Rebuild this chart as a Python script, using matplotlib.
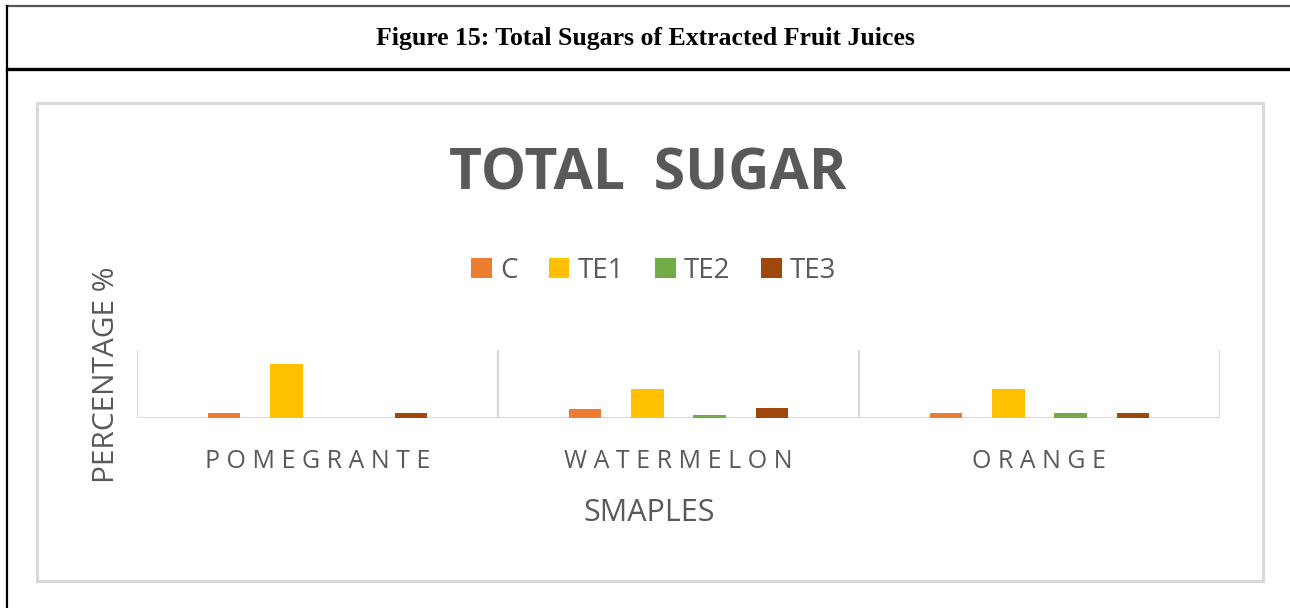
import matplotlib
matplotlib.use("Agg")
import numpy as np
import matplotlib.pyplot as plt
from matplotlib.lines import Line2D
from matplotlib.patches import Rectangle

# ── Datos ──────────────────────────────────────────────────────────────────
samples = ["POMEGRANTE", "WATERMELON", "ORANGE"]
series = ["C", "TE1", "TE2", "TE3"]
val_c   = [1.8, 3.3, 1.8]
val_te1 = [19.9, 10.6, 10.6]
val_te2 = [0.0, 1.1, 1.8]
val_te3 = [1.8, 3.7, 1.8]
colors = ["#ED7D31", "#FFC000", "#70AD47", "#9E480E"]

W, H = 1290, 608
TXT = "#595959"
GRID = "#D9D9D9"

def fx(x):
    return x / W

def fy(y):
    return 1 - y / H

fig = plt.figure(figsize=(W / 100, H / 100), dpi=100, facecolor="white")

# ── Marco exterior ─────────────────────────────────────────────────────────
fig.add_artist(Line2D([fx(7), 1], [fy(6), fy(6)], color="#555555", lw=1.6))
fig.add_artist(Line2D([fx(7), fx(7)], [fy(6), 0], color="black", lw=1.6))
fig.add_artist(Line2D([fx(7), 1], [fy(69), fy(69)], color="black", lw=2.4))
fig.text(fx(645), fy(38), "Figure 15: Total Sugars of Extracted Fruit Juices",
         ha="center", va="center", fontsize=18.5, fontweight="bold",
         family="Liberation Serif", color="black")

fig.add_artist(Rectangle((fx(37), fy(581)), fx(1263) - fx(37), fy(103) - fy(581),
                         transform=fig.transFigure, fill=False,
                         edgecolor=GRID, lw=2.2))

# ── Gráfico ────────────────────────────────────────────────────────────────
ax = fig.add_axes([fx(137), fy(418), fx(1220) - fx(137), fy(350) - fy(418)])
ax.set_facecolor("none")
x = np.arange(len(samples))
offsets = [-0.258, -0.086, 0.086, 0.258]
width = 0.089
for vals, off, clr, name in zip([val_c, val_te1, val_te2, val_te3], offsets, colors, series):
    ax.bar(x + off, vals, width=width, color=clr, label=name, zorder=3)

ax.set_xlim(-0.5, len(samples) - 0.5)
ax.set_ylim(0, 25)
ax.set_yticks([])
for sp in ax.spines.values():
    sp.set_visible(False)
ax.axhline(0, color=GRID, lw=2.2, zorder=2)
ax.set_xticks(np.arange(-0.5, len(samples)), minor=True)
ax.grid(which="minor", axis="x", color=GRID, lw=1.6)
ax.tick_params(axis="x", which="both", length=0, pad=22)
ax.set_xticks(x)
ax.set_xticklabels([" ".join(s) for s in samples], fontsize=18,
                   family="Open Sans", color=TXT)

fig.text(fx(649), fy(513), "SMAPLES", ha="center", va="center",
         fontsize=22, family="Open Sans", color=TXT)
fig.text(fx(106), fy(375), "PERCENTAGE %", ha="center", va="center",
         rotation=90, fontsize=21.5, family="Open Sans", color=TXT)
fig.text(fx(648), fy(175), "TOTAL\u2002SUGAR", ha="center", va="center",
         fontsize=41, fontweight="bold", family="Open Sans", color=TXT)

fig.legend(loc="center", bbox_to_anchor=(fx(654), fy(271)), ncol=4,
           frameon=False, prop={"family": "Open Sans", "size": 20},
           labelcolor=TXT, handlelength=0.75, handleheight=0.75,
           handletextpad=0.3, columnspacing=1.1)

fig.savefig("out.png", dpi=100, facecolor="white")
